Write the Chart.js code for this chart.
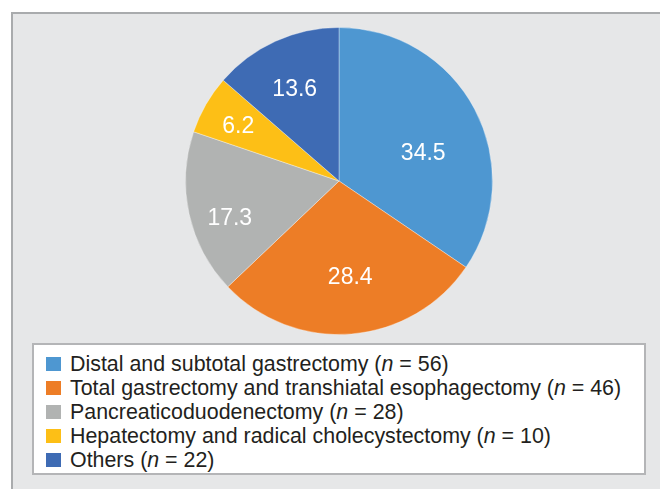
<!DOCTYPE html>
<html>
<head>
<meta charset="utf-8">
<script src="https://cdn.jsdelivr.net/npm/chart.js@4"></script>
<style>
  html, body { margin: 0; padding: 0; background: #fff; width: 660px; height: 489px; overflow: hidden; }
  body { font-family: 'Liberation Sans', Arial, sans-serif; }
  #panel {
    position: absolute; left: 11px; top: 12px; width: 700px; height: 520px;
    background: #e6e7e8; border-top: 2px solid #a9abad; border-left: 2px solid #a9abad;
  }
  #pie-wrap { position: absolute; left: 179px; top: 21px; width: 320px; height: 320px; }
  #legend {
    position: absolute; left: 32px; top: 343px; width: 610px; height: 128px;
    background: #fff; border: 2px solid #b4b5b7; box-sizing: content-box;
  }
  .row { position: absolute; left: 0; height: 24px; line-height: 24px; font-size: 21.4px; color: #231f20; white-space: nowrap; }
  .sw { position: absolute; left: 12px; top: 5px; width: 15px; height: 14px; }
  .txt { position: absolute; left: 36px; top: 0; }
</style>
</head>
<body>
<div id="panel"></div>
<div id="pie-wrap"><canvas id="pie" width="320" height="320"></canvas></div>
<div id="legend"></div>
<script>
/* Procedure mix — share of cases (%), drawn clockwise from 12 o'clock */
const categories = [
  'Distal and subtotal gastrectomy',
  'Total gastrectomy and transhiatal esophagectomy',
  'Pancreaticoduodenectomy',
  'Hepatectomy and radical cholecystectomy',
  'Others'
];
const counts   = [56, 46, 28, 10, 22];
const percents = [34.5, 28.4, 17.3, 6.2, 13.6];
const colors   = ['#4e97d1', '#ed7d26', '#b1b3b2', '#fdbf16', '#3e6bb4'];

// where each value label sits: fraction of the radius, and a small angle nudge (deg)
const labelSpots = [
  { f: 0.58, da: 9 }, { f: 0.63, da: -2 }, { f: 0.75, da: -6 }, { f: 0.75, da: -1 }, { f: 0.67, da: -1 }
];

const sliceLabels = {
  id: 'sliceLabels',
  afterDatasetsDraw(chart) {
    const { ctx } = chart;
    const meta = chart.getDatasetMeta(0);
    ctx.save();
    ctx.fillStyle = '#fff';
    ctx.font = "23px 'Liberation Sans', Arial, sans-serif";
    ctx.textAlign = 'center';
    ctx.textBaseline = 'middle';
    meta.data.forEach((arc, i) => {
      const p = arc.getProps(['x', 'y', 'startAngle', 'endAngle', 'outerRadius'], true);
      const spot = labelSpots[i];
      const a = (p.startAngle + p.endAngle) / 2 + spot.da * Math.PI / 180;
      const r = p.outerRadius * spot.f;
      ctx.fillText(percents[i].toFixed(1), p.x + Math.cos(a) * r, p.y + Math.sin(a) * r + 1);
    });
    ctx.restore();
  }
};

new Chart(document.getElementById('pie'), {
  type: 'pie',
  data: {
    labels: categories,
    datasets: [{
      data: percents,
      backgroundColor: colors,
      borderColor: 'rgba(255,255,255,0.35)',
      borderWidth: 1
    }]
  },
  options: {
    responsive: false,
    animation: false,
    layout: { padding: 6 },
    plugins: { legend: { display: false }, tooltip: { enabled: false } }
  },
  plugins: [sliceLabels]
});

// legend as real text so the italic n can be kept
const legend = document.getElementById('legend');
legend.innerHTML = categories.map((c, i) => `
  <div class="row" style="top:${7 + i * 24}px">
    <span class="sw" style="background:${colors[i]}"></span>
    <span class="txt">${c} (<i>n</i> = ${counts[i]})</span>
  </div>`).join('');
</script>
</body>
</html>
